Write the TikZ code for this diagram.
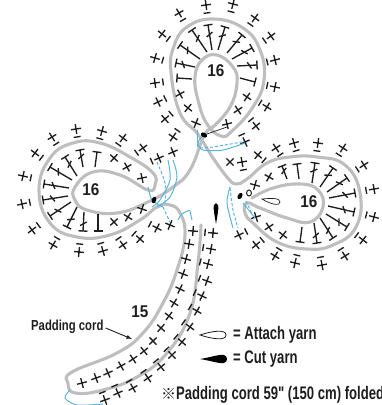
\documentclass[tikz,border=0pt]{standalone}
\usepackage{fontspec}
\setmainfont[FakeStretch=0.78]{Liberation Sans}
\newfontfamily\legfont[FakeStretch=0.72]{Liberation Sans}
\newfontfamily\numfont[FakeStretch=0.9]{Liberation Sans}
\newfontfamily\cjk{Noto Sans CJK JP}
\definecolor{cordgray}{RGB}{190,190,190}
\definecolor{yarnblue}{RGB}{90,180,220}
\definecolor{ink}{RGB}{30,30,30}
\tikzset{
  cord/.style={draw=cordgray,line width=3.1pt,line cap=round,line join=round},
  yarn/.style={draw=yarnblue,line width=1pt},
  yarndash/.style={yarn,densely dashed},
  stitch/.style={draw=ink,line width=1.35pt},
  lbl/.style={font=\bfseries\fontsize{14.5}{16}\selectfont,text=ink,inner sep=0pt},
  leg/.style={font=\legfont\bfseries\fontsize{18.2}{20}\selectfont,text=ink,inner sep=0pt},
  num/.style={font=\numfont\bfseries\fontsize{17}{19}\selectfont,text=ink,inner sep=0pt}
}
\newcommand{\crossbar}[3]{% x y angle
  \begin{scope}[shift={(#1,#2)},rotate=#3]
    \draw[stitch] (-5,0)--(5,0) (0,-5)--(0,5);
    \draw[stitch] (-8,-3.5)--(-8,3.5);
  \end{scope}}
\newcommand{\crossplain}[3]{%
  \begin{scope}[shift={(#1,#2)},rotate=#3]
    \draw[stitch] (-5,0)--(5,0) (0,-5)--(0,5);
  \end{scope}}
\newcommand{\ringbar}[3]{% cx cy list
  \foreach \px/\py in {#3}{%
    \pgfmathsetmacro\rang{atan2(#2-\py,\px-#1)}%
    \crossbar{\px}{\py}{\rang}}}
\newcommand{\ringplain}[3]{%
  \foreach \px/\py in {#3}{%
    \pgfmathsetmacro\rang{atan2(#2-\py,\px-#1)}%
    \crossplain{\px}{\py}{\rang}}}
\newcommand{\tallst}[1]{%
  \foreach \hx/\hy/\fx/\fy/\sl in {#1}{%
    \pgfmathsetmacro\tang{atan2(\hy-\fy,\fx-\hx)}%
    \pgfmathsetmacro\tlen{veclen(\fx-\hx,\fy-\hy)}%
    \pgfmathsetmacro\tmid{\tlen*0.38}%
    \begin{scope}[shift={(\hx,\hy)},rotate=\tang]
      \draw[stitch] (0,-4.5)--(0,4.5) (0,0)--(\tlen,0);
      \ifnum\sl=1 \draw[stitch] (\tmid-2,-3.2)--(\tmid+2,3.2);\fi
    \end{scope}}}
\begin{document}
\begin{tikzpicture}[x=1pt,y=-1pt]
\useasboundingbox (0,0) rectangle (382,405);
\clip (0,0) rectangle (382,405);
% cords
\path[cord] plot[smooth,tension=0.75] coordinates {(213,127)(230,107)(237,83)(233,67)(217,55)(202,60)(195,77)(198,100)(207,124)(221,136)(232,131)(253,107)(264,80)(260,50)(243,28)(213,19)(187,27)(174,46)(171,72)(180,113)(197,133)(208,150)(213,158)(227,177)(236,184)(247,179)(267,163)(290,157)(317,157)(345,165)(360,193)(356,227)(333,245)(307,249)(277,242)(253,223)(245,213)(247,203)(260,208)(287,218)(310,222)(323,207)(318,190)(300,184)(273,188)(252,198)};
\path[cord] plot[smooth,tension=0.75] coordinates {(213,127)(204,136)(190,170)(173,187)(148,202)(117,213)(87,210)(75,200)(75,187)(93,172)(120,175)(148,190)(155,185)(153,173)(130,157)(100,143)(73,143)(50,158)(39,190)(50,223)(77,237)(110,235)(140,220)(157,207)(170,205)(180,213)(185,235)(177,270)(163,303)(143,333)(117,353)(72,372)(68,383)(75,393)(103,390)(137,377)(167,353)(190,313)(198,263)(201,225)};
% top loop
\ringbar{215}{75}{179/13,206/5,233/4,255/18,271/36,275/60,275/87,267/107,256/126,245/142,162/34,155/58,155/83,158/102,165/119,173/137}
\ringplain{215}{75}{180/94,188/108,196/123,227/124,238/110,247/97}
\tallst{177/78/192/79/0,176/63/195/67/1,180/45/200/59/1,192/30/207/52/1,208/25/212/50/1,225/27/218/50/1,242/35/227/53/1,252/48/232/59/1,257/65/237/66/1,255/82/240/78/0}
% left loop
\ringbar{85}{190}{35/153,52/137,76/129,102/131,123/138,143/148,159/158,23/176,22/204,32/230,53/245,79/252,103/251,123/245,140/239,157/228}
\ringplain{85}{190}{173/152,114/158,127/167,142/178,142/209,128/217,114/222,170/225}
\tallst{97/152/95/167/0,80/150/83/167/1,65/157/77/176/1,50/167/72/180/1,44/184/69/188/1,43/200/68/196/1,50/216/71/202/1,67/227/77/207/1,83/231/84/212/1,98/231/98/214/0}
% right loop
\ringbar{310}{200}{258/155,276/148,294/143,318/143,343/148,364/165,374/189,374/217,363/240,345/256,322/265,295/263,275/256,256/245,239/235}
\crossbar{242}{162}{100}
\crossplain{230}{162}{45}
\ringplain{310}{200}{255/185,269/177,283/235,269/227,256/217}
\tallst{282/166/287/179/1,297/164/299/179/0,315/163/312/183/1,333/168/320/187/1,347/178/327/192/1,355/193/329/198/1,354/212/328/206/1,347/227/326/214/1,333/238/320/218/1,317/243/314/223/1,300/242/302/227/0}
\draw[stitch,line width=1pt] (249,193) ellipse (2.4 and 3);
% stem
\ringplain{40}{220}{193/231,189/244,186/259,183/274,180/289,174/303,169/316,161/328,153/341,144/351,133/359,121/366,108/373,96/378,82/383}
\ringbar{40}{220}{213/233,211/249,208/264,207/281,202/296,197/311,190/327,182/342,172/355,161/367,148/378,133/388,118/393,105/400}
% yarn tails
\draw[yarn] plot[smooth] coordinates {(203,135)(198,143)(203,150)(223,150)(245,143)};
\draw[yarndash] plot[smooth] coordinates {(200,148)(213,147)(242,142)};
\draw[yarn] (197,147)--(197,130);
\draw[yarn] plot[smooth] coordinates {(148,187)(152,200)(163,207)};
\draw[yarn] plot[smooth] coordinates {(173,160)(177,177)(170,197)(157,207)};
\draw[yarn] plot[smooth] coordinates {(168,160)(170,180)(160,200)(152,207)};
\draw[yarndash] plot[smooth] coordinates {(157,162)(165,183)(165,203)};
\draw[yarndash] (163,207)--(170,222);
\draw[yarn] plot[smooth] coordinates {(178,220)(182,214)(190,210)};
\draw[yarn] (190,211)--(192,220);
\draw[yarn] plot[smooth] coordinates {(230,187)(227,203)(233,228)};
\draw[yarndash] plot[smooth] coordinates {(230,188)(233,210)(238,228)};
\draw[yarn] (243,203)--(255,218);
\draw[yarndash] (246,201)--(252,214);
\draw[yarn] plot[smooth] coordinates {(70,390)(65,398)(77,405)(103,404)};
% short black tail + cut marks
\draw[ink,line width=0.7pt] (207,134)--(227,127);
\fill[black,rotate around={-30:(204,135)}] (204,135) ellipse (3.4 and 2.2);
\fill[black,rotate around={70:(154,200)}] (154,200) ellipse (3.4 and 2.2);
\fill[black,rotate around={60:(240,196)}] (240,196) ellipse (3.4 and 2.2);
\fill[black] (216,224) .. controls (214,212) and (212,204) .. (216,203) .. controls (220,204) and (218,212) .. (216,224) -- cycle;
\draw[ink,line width=0.7pt] (262,199) .. controls (272,198) and (280,198) .. (280,202) .. controls (280,206) and (272,205) .. (262,199) -- cycle;
% labels
\node[num] (n1) at (216,71) {16};
\node[num] (n2) at (91,190) {16};
\node[num] (n3) at (309,202) {16};
\node[num] (n4) at (140,312) {15};
\node[lbl,anchor=west] (pc) at (31,327) {Padding cord};
\draw[ink,line width=0.9pt,-latex] (pc.east)++(2,1) -- (132,339);
% legend
\draw[ink,line width=0.8pt] (200,335) .. controls (212,331) and (226,329) .. (226,335) .. controls (226,341) and (212,339) .. (200,335) -- cycle;
\fill[black] (200,359) .. controls (212,357) and (220,354) .. (224,355) .. controls (228,356) and (228,362) .. (224,363) .. controls (220,364) and (212,361) .. (200,359) -- cycle;
\node[leg,anchor=west] (att) at (233,335) {= Attach yarn};
\node[leg,anchor=west] (cut) at (233,359) {= Cut yarn};
\node[leg,anchor=west] (note) at (161,395) {{\cjk\fontsize{15}{16}\selectfont ※}Padding cord 59" (150 cm) folded};
\end{tikzpicture}
\end{document}
